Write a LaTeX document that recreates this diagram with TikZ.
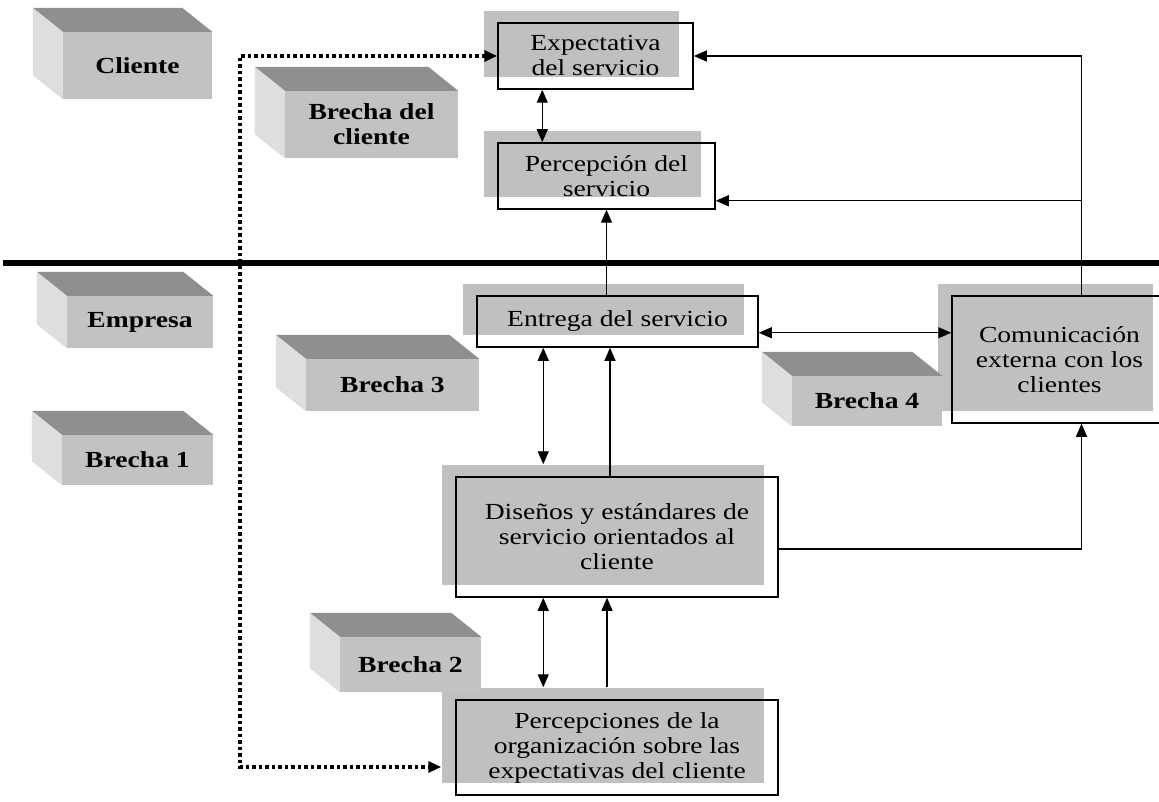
\documentclass[tikz,border=0pt]{standalone}
\usepackage{fontspec}
\setmainfont{Liberation Serif}[FakeStretch=1.2]
\usetikzlibrary{arrows.meta,positioning,calc,shadows}
\definecolor{blocktop}{HTML}{8F8F8F}
\definecolor{blockfront}{HTML}{C2C2C2}
\definecolor{blockside}{HTML}{DEDEDE}
\definecolor{boxshade}{HTML}{C0C0C0}
\tikzset{
  gap block/.style={fill=blockfront, inner sep=0pt, align=center,
    font=\fontsize{23}{25}\selectfont\bfseries},
  block top/.style={fill=blocktop},
  block side/.style={fill=blockside},
  stage box/.style={draw=black, line width=1.5pt, align=center, inner sep=0pt,
    drop shadow={shadow xshift=-14pt, shadow yshift=12pt, fill=boxshade, opacity=1}},
  flow/.style={-{Triangle[length=13pt,width=11pt]}, line width=1.2pt},
  two way/.style={{Triangle[length=13pt,width=11pt]}-{Triangle[length=13pt,width=11pt]}, line width=1.2pt},
  survey link/.style={{Triangle[length=13pt,width=11pt]}-{Triangle[length=13pt,width=11pt]},
    line width=4.5pt, dash pattern=on 3.5pt off 3pt},
}

\begin{document}
\begin{tikzpicture}[x=1pt,y=-1pt,font=\fontsize{23}{25}\selectfont]

  \path[use as bounding box, fill=white] (0,0) rectangle (1159,802);

  % client / company divide
  \draw[line width=6pt] (3,263.5) -- (1170,263.5);

  % stages of the service
  \node[stage box, minimum width=195pt, minimum height=66pt] (expect) at (595.5,56)
    {Expectativa\\del servicio};
  \node[stage box, minimum width=217pt, minimum height=66pt] (percep) at (606.5,176)
    {Percepción del\\servicio};
  \node[stage box, minimum width=281pt, minimum height=51pt] (entrega) at (617.5,321.5)
    {Entrega del servicio};
  \node[stage box, minimum width=215pt, minimum height=127pt] (comunic) at (1059.5,359.5)
    {Comunicación\\externa con los\\clientes};
  \node[stage box, minimum width=322pt, minimum height=120pt] (disenos) at (617,537)
    {Diseños y estándares de\\servicio orientados al\\cliente};
  \node[stage box, minimum width=322pt, minimum height=95pt] (percorg) at (617,747.5)
    {Percepciones de la\\organización sobre las\\expectativas del cliente};

  % grey blocks: front face as node, top and left faces behind it
  \foreach \nm/\cx/\cy/\w/\h/\txt in {
      cliente/137.5/65.5/149/67/Cliente,
      brechacli/371.5/124.5/173/67/{Brecha del\\cliente},
      empresa/140/322/146/52/Empresa,
      brechauno/137.5/460/151/50/Brecha 1,
      brechatres/392.5/385/173/52/Brecha 3,
      brechacuatro/867/401/150/50/Brecha 4,
      brechados/410.5/664.5/141/55/Brecha 2} {
    \node[gap block, minimum width=\w pt, minimum height=\h pt] (\nm) at (\cx,\cy) {\txt};
    \fill[block top] (\nm.north west) -- ++(-30,-24) -- ($(\nm.north east)+(-30,-24)$)
      -- (\nm.north east) -- cycle;
    \fill[block side] (\nm.north west) -- ++(-30,-24) -- ($(\nm.south west)+(-30,-24)$)
      -- (\nm.south west) -- cycle;
  }

  % client side
  \draw[two way] ($(expect.south west)+(45,0)$) -- ($(percep.north west)+(45,0)$);
  \draw[flow] (entrega.north -| percep.south) -- (percep.south);
  \coordinate (trunk) at ($(comunic.north)+(22,0)$);
  \coordinate (perin) at ($(percep.south east)+(0,-9)$);
  \draw[flow] (trunk) |- (expect.east);
  \draw[flow] (trunk |- perin) -- (perin);

  % company side
  \coordinate (entout) at ($(entrega.south east)+(0,-15)$);
  \draw[two way] (entout) -- (entout -| comunic.west);
  \coordinate (e1) at ($(entrega.south west)+(67,0)$);
  \draw[two way] (e1) -- ($(e1 |- disenos.north)+(0,-12)$);
  \coordinate (d1) at ($(disenos.north)+(-7,0)$);
  \draw[flow] (d1) -- (d1 |- entrega.south);
  \draw[flow] ($(disenos.east)+(0,12)$) -| (trunk |- comunic.south);
  \coordinate (d2) at ($(disenos.south west)+(88,0)$);
  \draw[two way] (d2) -- ($(d2 |- percorg.north)+(0,-12)$);
  \coordinate (p1) at ($(percorg.north)+(-10,-12)$);
  \draw[flow] (p1) -- (p1 |- disenos.south);

  % dotted link between the two expectations
  \coordinate (dotcorner) at (240,767);
  \draw[survey link] (expect.west) -| (dotcorner) -- ($(dotcorner -| percorg.west)+(-14,0)$);
\end{tikzpicture}
\end{document}
